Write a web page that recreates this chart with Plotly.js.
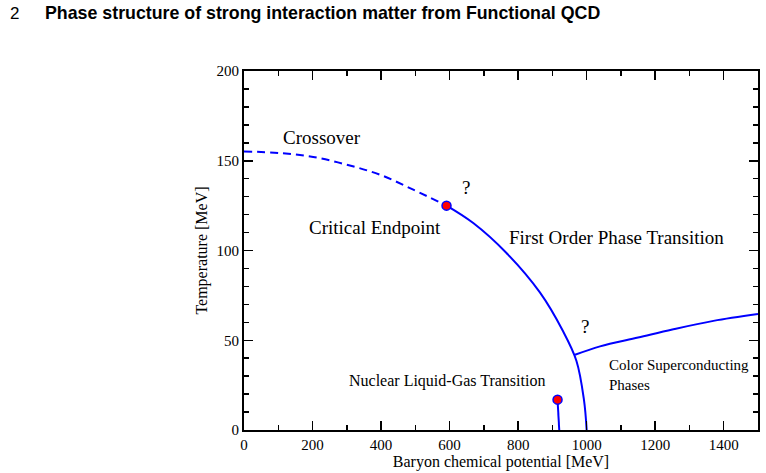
<!DOCTYPE html>
<html>
<head>
<meta charset="utf-8">
<script src="https://cdn.plot.ly/plotly-3.0.1.min.js"></script>
<style>html,body{margin:0;padding:0;background:#fff;}#chart{width:766px;height:473px;}</style>
</head>
<body>
<div id="chart"></div>
<script>
// Crossover (dashed) line: baryon chemical potential [MeV], temperature [MeV]
const crossoverMu = [0, 105, 202, 300, 397, 494, 591];
const crossoverT  = [155.2, 154.3, 152.1, 147.8, 142.2, 133.9, 125.0];
// First-order phase transition line
const firstOrderMu = [591, 669, 766, 864, 930, 970, 992, 1000];
const firstOrderT  = [125.0, 115.3, 98.6, 76.5, 55.4, 38.6, 16.9, 0];
// Color superconducting boundary
const cscMu = [966, 1039, 1150, 1250, 1370, 1500];
const cscT  = [41.9, 46.6, 51.5, 56, 60.8, 64.6];
// Nuclear liquid-gas transition line
const nuclearMu = [915, 917.5, 920];
const nuclearT  = [16.9, 8.5, 0];
// Critical endpoints
const endpointMu = [591, 915];
const endpointT  = [125.0, 16.9];

// Labels
const labelTexts = ["Crossover", "?", "Critical Endpoint", "First Order Phase Transition", "?",
                    "Color Superconducting<br>Phases", "Nuclear Liquid-Gas Transition"];
const labelMu = [228, 648, 382, 1088, 995, 1059, 592];
const labelT  = [162.8, 135, 112.7, 107.1, 57.6, 30.5, 27.5];

const xTickVals = [0, 200, 400, 600, 800, 1000, 1200, 1400];
const yTickVals = [0, 50, 100, 150, 200];

const blue = "#0000ff";
const serif = "Liberation Serif, Times New Roman, serif";

const traces = [
  {x: crossoverMu, y: crossoverT, mode: "lines", line: {color: blue, width: 2, dash: "8px,5px", shape: "spline"}, hoverinfo: "skip"},
  {x: firstOrderMu, y: firstOrderT, mode: "lines", line: {color: blue, width: 2, shape: "spline"}, hoverinfo: "skip"},
  {x: cscMu, y: cscT, mode: "lines", line: {color: blue, width: 2, shape: "spline"}, hoverinfo: "skip"},
  {x: nuclearMu, y: nuclearT, mode: "lines", line: {color: blue, width: 2}, hoverinfo: "skip"},
  {x: endpointMu, y: endpointT, mode: "markers", marker: {color: "#ff0000", size: 9, line: {color: blue, width: 1.5}}, hoverinfo: "skip"}
];

const annotations = labelTexts.map((t, i) => ({
  x: labelMu[i], y: labelT[i], xref: "x", yref: "y", text: t, showarrow: false,
  xanchor: i === 5 ? "left" : "center", align: "left",
  font: {family: serif, size: (i === 5 ? 15 : (i === 6 ? 16 : 19)), color: "#000"}
}));
annotations.push({
  xref: "paper", yref: "paper", x: (8 - 244) / 514, y: 1 + (71 - 13) / 359, xanchor: "left", yanchor: "middle",
  text: "2", showarrow: false, font: {family: "Liberation Sans, sans-serif", size: 17, color: "#000"}
});
annotations.push({
  xref: "paper", yref: "paper", x: (43 - 244) / 514, y: 1 + (71 - 13) / 359, xanchor: "left", yanchor: "middle",
  text: "<b>Phase structure of strong interaction matter from Functional QCD</b>", showarrow: false,
  font: {family: "Liberation Sans, sans-serif", size: 17.8, color: "#000"}
});

const axisCommon = {
  showgrid: false, zeroline: false, showline: true, linecolor: "#000", linewidth: 2,
  mirror: "allticks", ticks: "inside", ticklen: 9, tickwidth: 1.5, tickcolor: "#000",
  tickfont: {family: serif, size: 15, color: "#000"}
};

const layout = {
  width: 766, height: 473,
  margin: {l: 244, r: 8, t: 71, b: 43},
  paper_bgcolor: "#fff", plot_bgcolor: "#fff",
  showlegend: false,
  xaxis: Object.assign({}, axisCommon, {
    range: [0, 1500], tickvals: xTickVals, ticktext: xTickVals.map(String),
    minor: {dtick: 100, tick0: 0, ticks: "inside", ticklen: 5, tickwidth: 1.5, tickcolor: "#000"},
    title: {text: "Baryon chemical potential [MeV]", font: {family: serif, size: 16, color: "#000"}, standoff: 0}
  }),
  yaxis: Object.assign({}, axisCommon, {
    range: [0, 200], tickvals: yTickVals, ticktext: yTickVals.map(String),
    minor: {dtick: 10, tick0: 0, ticks: "inside", ticklen: 5, tickwidth: 1.5, tickcolor: "#000"},
    title: {text: "Temperature [MeV]", font: {family: serif, size: 16, color: "#000"}, standoff: 5}
  }),
  annotations: annotations
};

Plotly.newPlot("chart", traces, layout, {staticPlot: true, displayModeBar: false});
</script>
</body>
</html>
